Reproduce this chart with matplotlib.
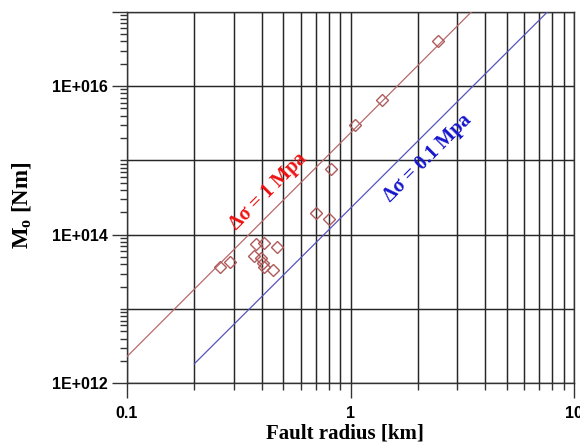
import matplotlib
matplotlib.use("Agg")
import matplotlib.pyplot as plt
from matplotlib.ticker import LogLocator, FixedLocator, NullFormatter, FixedFormatter

plt.rcParams['mathtext.fontset'] = 'custom'
plt.rcParams['mathtext.rm'] = 'Liberation Serif:bold'
plt.rcParams['mathtext.bf'] = 'Liberation Serif:bold'
plt.rcParams['mathtext.it'] = 'Liberation Serif:bold'

# Observed events: fault radius [km] and seismic moment [Nm]
radius_km = [2.47, 1.39, 1.05, 0.82, 0.70, 0.80, 0.261, 0.290, 0.379, 0.411,
             0.469, 0.371, 0.399, 0.405, 0.408, 0.449]
moment_nm = [4.05e16, 6.4e15, 3.0e15, 7.7e14, 1.98e14, 1.63e14, 3.67e13, 4.3e13,
             7.5e13, 7.7e13, 6.8e13, 5.1e13, 4.9e13, 4.2e13, 3.67e13, 3.35e13]

# Constant stress-drop reference lines (end points)
line_1mpa_r = [0.1, 3.48]
line_1mpa_m = [2.29e12, 1.0e17]
line_01mpa_r = [0.2, 7.62]
line_01mpa_m = [1.83e12, 1.0e17]

ytick_vals = [1e12, 1e14, 1e16, 1e17]
ytick_labels = ['1E+012', '1E+014', '1E+016', '']
xtick_vals = [0.1, 1, 10]
xtick_labels = ['0.1', '1', '10']

fig = plt.figure(figsize=(5.8, 4.45), dpi=100)
ax = fig.add_axes([0.219, 0.1386, 0.7707, 0.8351])
ax.set_xscale('log')
ax.set_yscale('log')
ax.set_xlim(0.1, 10)
ax.set_ylim(1e12, 1e17)

ax.plot(line_1mpa_r, line_1mpa_m, color='#b86a6a', lw=0.9, zorder=3)
ax.plot(line_01mpa_r, line_01mpa_m, color='#5555bb', lw=0.9, zorder=3)
ax.plot(radius_km, moment_nm, linestyle='none', marker='D', markersize=6.5,
        markerfacecolor='none', markeredgecolor='#b05a5a', markeredgewidth=1.0, zorder=4)

# Ticks
ax.xaxis.set_major_locator(FixedLocator(xtick_vals))
ax.xaxis.set_major_formatter(FixedFormatter(xtick_labels))
ax.xaxis.set_minor_locator(LogLocator(base=10, subs=range(2, 10), numticks=20))
ax.xaxis.set_minor_formatter(NullFormatter())
ax.yaxis.set_major_locator(FixedLocator(ytick_vals))
ax.yaxis.set_major_formatter(FixedFormatter(ytick_labels))
ax.yaxis.set_minor_locator(LogLocator(base=10, subs=range(1, 10), numticks=20))
ax.yaxis.set_minor_formatter(NullFormatter())

ax.tick_params(axis='both', which='major', direction='out', length=11, width=1.0,
               color='#333333', pad=4)
ax.tick_params(axis='both', which='minor', direction='out', length=5, width=1.0,
               color='#333333')
for lab in ax.get_xticklabels() + ax.get_yticklabels():
    lab.set_fontfamily('Liberation Sans')
    lab.set_fontweight('bold')
    lab.set_fontsize(11.5)
ax.tick_params(axis='x', which='major', pad=5)
ax.tick_params(axis='y', which='major', pad=3)

# Grid: vertical at every x tick (major+minor), horizontal at each decade
gkw = dict(color='#262626', lw=1.05, zorder=1)
for v in [0.1 * k for k in range(1, 10)] + [1.0 * k for k in range(1, 10)] + [10]:
    ax.axvline(v, **gkw)
for v in [1e12, 1e13, 1e14, 1e15, 1e16, 1e17]:
    ax.axhline(v, **gkw)

for s in ax.spines.values():
    s.set_color('#333333')
    s.set_linewidth(1.0)

ax.set_xlabel('Fault radius [km]', fontfamily='Liberation Serif', fontweight='bold',
              fontsize=15)
ax.xaxis.set_label_coords(0.4866, -0.108)
ax.set_ylabel(r'$\mathbf{M_o}$ [Nm]', fontfamily='Liberation Serif', fontweight='bold',
              fontsize=16.5)
ax.yaxis.set_label_coords(-0.21, 0.48)

ax.text(0.428, 3.87e14, 'Δσ = 1 Mpa', rotation=45, rotation_mode='anchor',
        ha='center', va='center', color='#ee1111', fontfamily='Liberation Serif',
        fontweight='bold', fontsize=14.5, zorder=5)
ax.text(2.21, 1.08e15, 'Δσ = 0.1 Mpa', rotation=45, rotation_mode='anchor',
        ha='center', va='center', color='#1515cc', fontfamily='Liberation Serif',
        fontweight='bold', fontsize=14.5, zorder=5)

fig.savefig('out.png', dpi=100, facecolor='white')
